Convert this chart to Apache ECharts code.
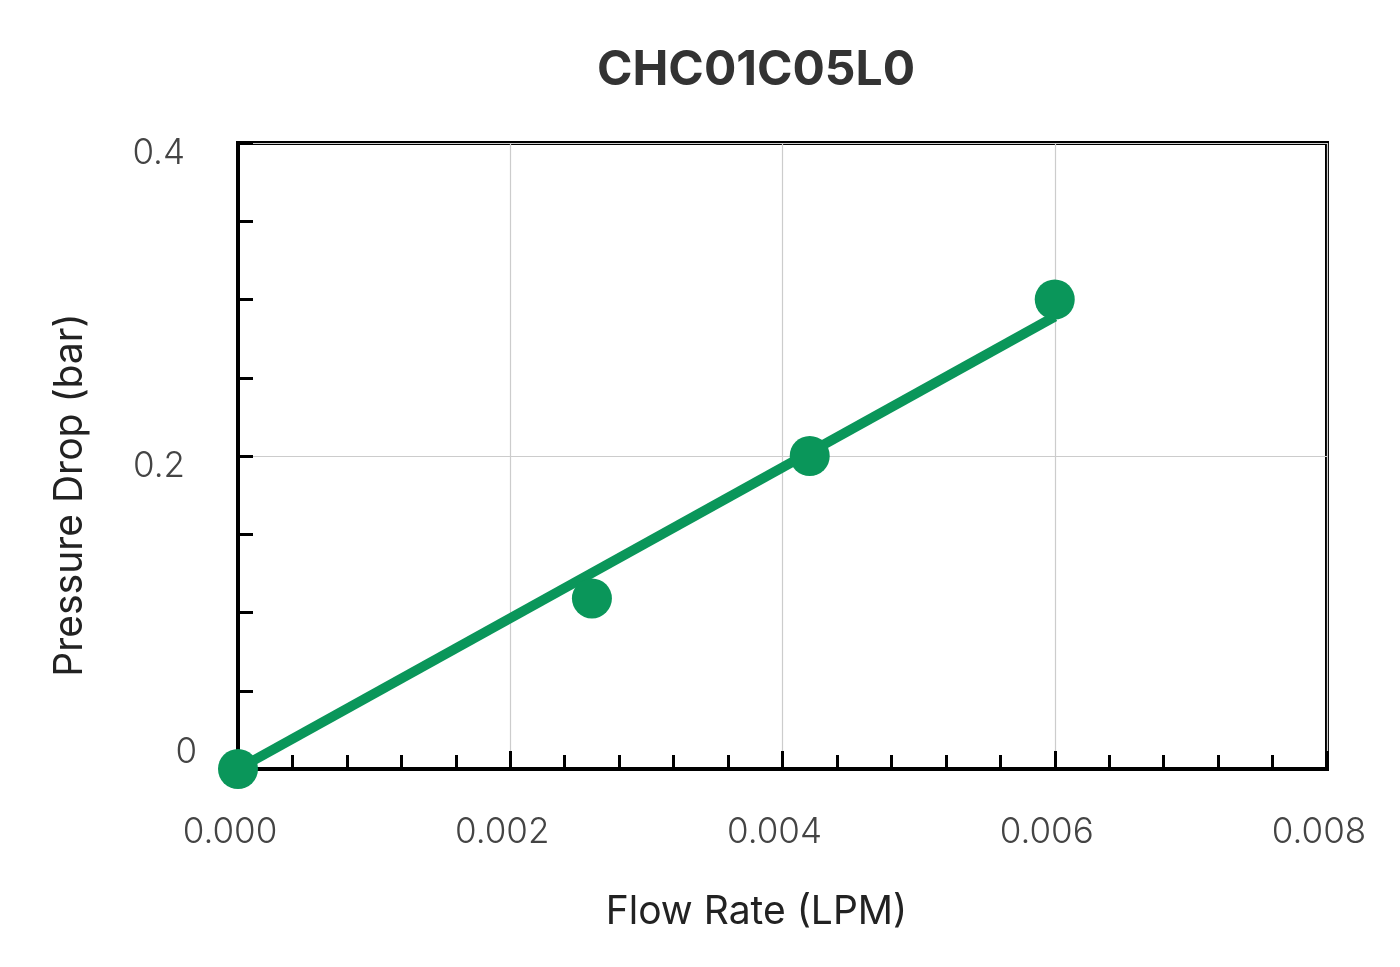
<!DOCTYPE html>
<html>
<head>
<meta charset="utf-8">
<title>CHC01C05L0</title>
<script src="https://cdn.jsdelivr.net/npm/echarts@6/dist/echarts.min.js"></script>
<style>
    html, body { margin: 0; padding: 0; background: #fff; }
    #main { width: 1400px; height: 967px; }
</style>
</head>
<body>
<div id="main"></div>
<script>
"use strict";

// measured points
const flowRate = [0, 0.0026, 0.0042, 0.006];
const pressureDrop = [0, 0.109, 0.2, 0.3];

// straight trend line through the points
const fitFlow = [0, 0.006];
const fitPressure = [0, 0.289];

const green = '#0a965a';
const labelFont = { fontFamily: 'Inter', fontWeight: 300, fontSize: 35, color: '#444' };

const toPairs = (xs, ys) => xs.map((x, i) => [x, ys[i]]);

const chart = echarts.init(document.getElementById('main'));

const option = {
    backgroundColor: '#fff',
    animation: false,
    title: {
        text: 'CHC01C05L0',
        left: 592,
        top: 42,
        textStyle: {
            fontFamily: 'Inter',
            fontSize: 48,
            fontWeight: 'bold',
            color: '#333'
        }
    },
    grid: {
        left: 238,
        right: 73,
        top: 143,
        bottom: 198,
        show: true,
        borderWidth: 4,
        borderColor: '#000'
    },
    xAxis: {
        type: 'value',
        min: 0,
        max: 0.008,
        interval: 0.002,
        name: 'Flow Rate (LPM)',
        nameLocation: 'middle',
        nameGap: 124,
        nameTextStyle: {
            fontFamily: 'Inter',
            fontSize: 39,
            color: '#222',
            padding: [0, 52, 0, 0]
        },
        axisLine: { lineStyle: { color: '#000', width: 4 } },
        axisTick: { inside: true, length: 18, lineStyle: { color: '#000', width: 3 } },
        minorTick: { show: true, splitNumber: 5, length: 14, lineStyle: { color: '#000', width: 3 } },
        splitLine: { show: true, lineStyle: { color: '#cccccc', width: 1.2 } },
        axisLabel: Object.assign({
            margin: 46,
            padding: [0, 16, 0, 0],
            formatter: v => v.toFixed(3)
        }, labelFont)
    },
    yAxis: {
        type: 'value',
        min: 0,
        max: 0.4,
        interval: 0.2,
        name: 'Pressure Drop (bar)',
        nameLocation: 'middle',
        nameGap: 148,
        nameTextStyle: {
            fontFamily: 'Inter',
            fontSize: 39,
            color: '#222',
            padding: [0, 78, 0, 0]
        },
        axisLine: { lineStyle: { color: '#000', width: 4 } },
        axisTick: { inside: true, length: 15, lineStyle: { color: '#000', width: 3 } },
        minorTick: { show: true, splitNumber: 4, length: 15, lineStyle: { color: '#000', width: 3 } },
        splitLine: { show: true, lineStyle: { color: '#cccccc', width: 1.2 } },
        axisLabel: Object.assign({
            margin: 41,
            formatter: v => v === 0 ? '{z|0}' : '{n|' + v + '}',
            rich: {
                z: Object.assign({ padding: [0, 0, 34, 0] }, labelFont),
                n: Object.assign({ padding: [20, 12, 0, 0] }, labelFont)
            }
        }, labelFont)
    },
    series: [
        {
            // trend line
            type: 'line',
            data: toPairs(fitFlow, fitPressure),
            showSymbol: false,
            clip: false,
            lineStyle: { color: green, width: 10 },
            z: 3
        },
        {
            type: 'scatter',
            data: toPairs(flowRate, pressureDrop),
            symbolSize: 40,
            clip: false,
            itemStyle: { color: green, opacity: 1 },
            z: 4
        }
    ]
};
chart.setOption(option);
</script>
</body>
</html>
